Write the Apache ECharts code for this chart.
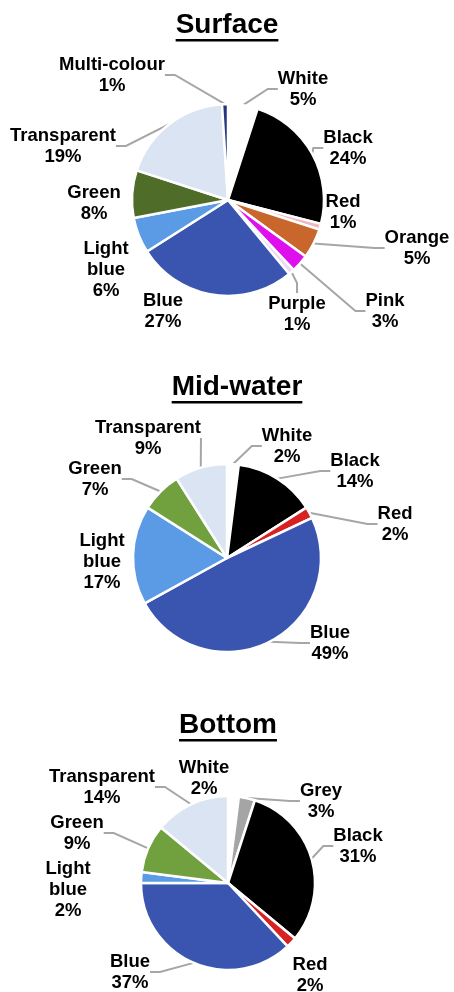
<!DOCTYPE html>
<html>
<head>
<meta charset="utf-8">
<script src="https://cdn.jsdelivr.net/npm/echarts@6/dist/echarts.min.js"></script>
<style>
  html, body { margin: 0; padding: 0; background: #ffffff; }
  #chart { width: 454px; height: 992px; }
</style>
</head>
<body>
<div id="chart"></div>
<script>
// Plastic colour composition (%) by water-column zone
const surfaceCategories = ['White', 'Black', 'Red', 'Orange', 'Pink', 'Purple', 'Blue', 'Light blue', 'Green', 'Transparent', 'Multi-colour'];
const surfaceValues     = [5, 24, 1, 5, 3, 1, 27, 6, 8, 19, 1];

const midCategories = ['White', 'Black', 'Red', 'Blue', 'Light blue', 'Green', 'Transparent'];
const midValues     = [2, 14, 2, 49, 17, 7, 9];

const bottomCategories = ['White', 'Grey', 'Black', 'Red', 'Blue', 'Light blue', 'Green', 'Transparent'];
const bottomValues     = [2, 3, 31, 2, 37, 2, 9, 14];

const panelTitles = ['Surface', 'Mid-water', 'Bottom'];

// Slice fill for each colour name
const sliceColours = {
  'White': '#ffffff',
  'Black': '#000000',
  'Red': '#d82222',
  'Orange': '#c8662c',
  'Pink': '#e010ee',
  'Purple': '#f0d8f2',
  'Blue': '#3a55b0',
  'Light blue': '#5b9be6',
  'Green': '#71a03f',
  'Transparent': '#dbe4f3',
  'Grey': '#a5a5a5',
  'Multi-colour': '#25357f'
};
const surfaceOverrides = { 'Green': '#4f6d28', 'Red': '#f2b8c0' };

// Panel layout: pie centre, radius, title anchor
const panels = [
  { center: [228, 200], radius: 96, title: [227, 25] },
  { center: [227, 558], radius: 94, title: [237, 387] },
  { center: [228, 883], radius: 87, title: [228, 725] }
];

// Label text centres for each slice, per panel
const labelSpots = [
  [[303, 89], [348, 148], [343, 212], [417, 248], [385, 311], [297, 314], [163, 311], [106, 270], [94, 203], [63, 146], [112, 75]],
  [[287, 446], [355, 471], [395, 524], [330, 643], [102, 562], [95, 479], [148, 438]],
  [[204, 778], [321, 801], [358, 846], [310, 975], [130, 972], [68, 890], [77, 833], [102, 787]]
];

// Slices whose labels sit right against the pie and need no leader line
const noLeader = [
  ['Red', 'Blue', 'Light blue', 'Green'],
  ['Light blue'],
  ['White', 'Red', 'Light blue']
];

const FONT = 'Arial, "Liberation Sans", Helvetica, sans-serif';

function buildData(cats, vals, si, overrides) {
  return cats.map((c, i) => {
    const lead = noLeader[si].indexOf(c) < 0;
    return {
      name: c,
      value: vals[i],
      itemStyle: { color: (overrides && overrides[c]) || sliceColours[c] },
      labelLine: lead ? { show: true } : { show: false, lineStyle: { opacity: 0 } }
    };
  });
}

const datasets = [
  buildData(surfaceCategories, surfaceValues, 0, surfaceOverrides),
  buildData(midCategories, midValues, 1),
  buildData(bottomCategories, bottomValues, 2)
];

function measure(text, font) {
  const ctx = document.createElement('canvas').getContext('2d');
  ctx.font = font;
  return ctx.measureText(text).width;
}

// Underlined panel headings
const graphics = [];
panelTitles.forEach((t, i) => {
  const [x, y] = panels[i].title;
  const font = 'bold 28px ' + FONT;
  const w = measure(t, font);
  graphics.push({
    type: 'text', x: x, y: y,
    style: { text: t, font: font, fill: '#000', align: 'center', verticalAlign: 'middle' }
  });
  graphics.push({
    type: 'rect',
    shape: { x: x - w / 2, y: y + 14, width: w, height: 2.5 },
    style: { fill: '#000' }
  });
});

const series = datasets.map((data, si) => ({
  type: 'pie',
  center: panels[si].center,
  radius: panels[si].radius,
  startAngle: 90,
  clockwise: true,
  animation: false,
  data: data,
  itemStyle: { borderColor: '#ffffff', borderWidth: 2.5 },
  label: {
    show: true,
    formatter: p => p.name.replace('Light blue', 'Light\nblue') + '\n' + p.value + '%',
    fontFamily: FONT,
    fontWeight: 'bold',
    fontSize: 18.5,
    lineHeight: 21,
    color: '#000',
    align: 'center'
  },
  labelLine: {
    length: 10,
    length2: 10,
    lineStyle: { color: '#a6a6a6', width: 2 }
  },
  labelLayout: params => {
    const p = labelSpots[si][params.dataIndex];
    return { x: p[0], y: p[1], align: 'center', verticalAlign: 'middle' };
  },
  emphasis: { disabled: true }
}));

const chart = echarts.init(document.getElementById('chart'), null, { renderer: 'canvas' });
chart.setOption({
  backgroundColor: '#ffffff',
  animation: false,
  graphic: graphics,
  series: series
});
</script>
</body>
</html>
